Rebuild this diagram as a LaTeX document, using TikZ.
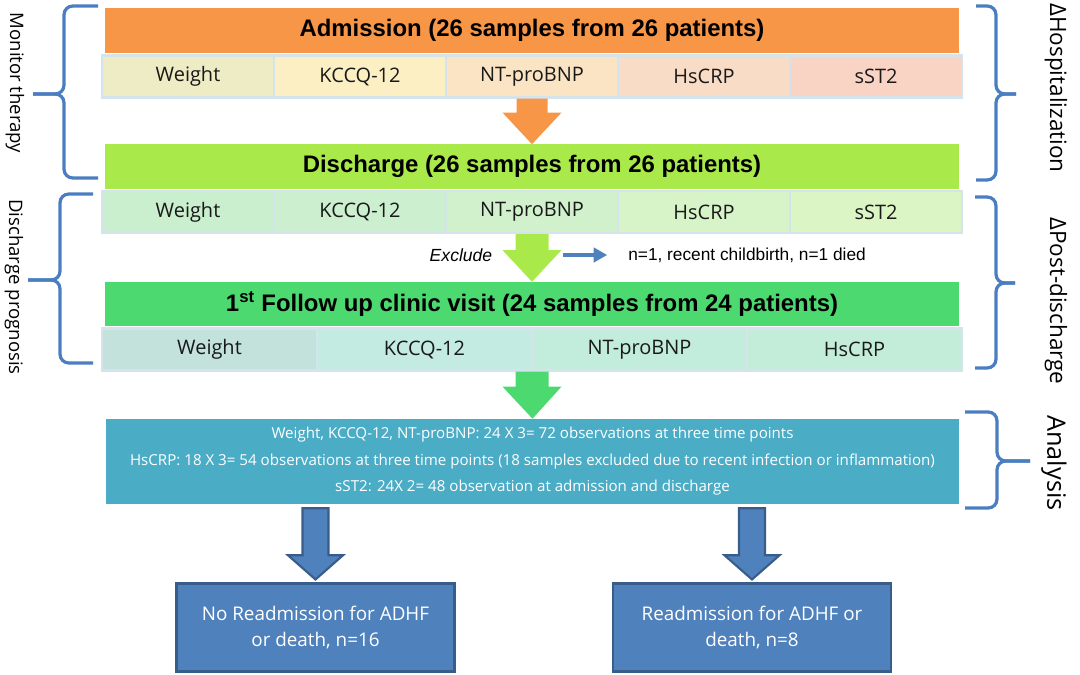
\documentclass[tikz,border=0pt]{standalone}
\usepackage{fontspec}
\setmainfont{Open Sans}
\newfontfamily\arialfont{Liberation Sans}
\usetikzlibrary{calc,arrows.meta}

\definecolor{admorange}{HTML}{F79646}
\definecolor{dislime}{HTML}{A9E94A}
\definecolor{folgreen}{HTML}{4CD970}
\definecolor{anaaqua}{HTML}{4BACC6}
\definecolor{outblue}{HTML}{4F81BD}
\definecolor{outedge}{HTML}{385D8A}
\definecolor{bracecol}{HTML}{4A7EC0}
\definecolor{celledge}{HTML}{D5E3EC}
% cell fills
\definecolor{admA}{HTML}{EEECC5}
\definecolor{admB}{HTML}{FCEFC3}
\definecolor{admC}{HTML}{FBE4C4}
\definecolor{admD}{HTML}{F9DCC6}
\definecolor{admE}{HTML}{F9D3C3}
\definecolor{disA}{HTML}{C9EFCF}
\definecolor{disB}{HTML}{CBEFCF}
\definecolor{disC}{HTML}{D0F1CC}
\definecolor{disD}{HTML}{D6F4C7}
\definecolor{disE}{HTML}{DBF5C4}
\definecolor{folA}{HTML}{C4E2DC}
\definecolor{folB}{HTML}{C4EBE1}
\definecolor{folC}{HTML}{C2ECDC}
\definecolor{folD}{HTML}{C3EDD8}

\tikzset{
  stagebar/.style={minimum width=21.35cm, minimum height=1.1cm, inner sep=0pt,
    font=\arialfont\bfseries\fontsize{17}{20}\selectfont},
  cell/.style={draw=celledge, line width=1.6pt, minimum height=1.05cm, inner sep=0pt,
    text=black!90, font=\fontsize{14.2}{16}\selectfont},
  sidelabel/.style={rotate=-90, font=\fontsize{13.2}{15}\selectfont},
  deltalabel/.style={rotate=-90, font=\fontsize{16}{18}\selectfont},
  bracket/.style={draw=bracecol, line width=2.3pt, rounded corners=0.22cm},
  outcome/.style={fill=outblue, draw=outedge, line width=2pt, minimum width=6.95cm,
    minimum height=2.18cm, text=white, align=center, font=\fontsize{13.4}{19}\selectfont},
  bluearrow/.style={fill=outblue, draw=outedge, line width=1.5pt},
  exarrow/.style={draw=outblue, line width=2.8pt, -{Triangle[length=0.34cm,width=0.36cm]}},
}

\begin{document}
\begin{tikzpicture}[x=0.025cm,y=-0.025cm]
  \useasboundingbox (0,0) rectangle (1080,675);

  % stage bars
  \node[stagebar, fill=admorange] (adm) at (532,30.5) {Admission (26 samples from 26 patients)};
  \node[stagebar, fill=dislime] (dis) at (532,166.5) {Discharge (26 samples from 26 patients)};
  \node[stagebar, fill=folgreen] (fol) at (532,304) {1\textsuperscript{st} Follow up clinic visit (24 samples from 24 patients)};

  % measurement cells
  \foreach \i/\txt/\col in {1/Weight/admA,2/KCCQ-12/admB,3/NT-proBNP/admC,4/HsCRP/admD,5/sST2/admE}
    \node[cell, fill=\col, minimum width=4.3cm] (a\i) at (16+172*\i,76.5) {\txt};
  \foreach \i/\txt/\col in {1/Weight/disA,2/KCCQ-12/disB,3/NT-proBNP/disC,4/HsCRP/disD,5/sST2/disE}
    \node[cell, fill=\col, minimum width=4.3cm] (d\i) at (16+172*\i,212) {\txt};
  \foreach \i/\txt/\col in {1/Weight/folA,2/KCCQ-12/folB,3/NT-proBNP/folC,4/HsCRP/folD}
    \node[cell, fill=\col, minimum width=5.375cm] (f\i) at (-5.5+215*\i,349.5) {\txt};

  % analysis box
  \node[fill=anaaqua, minimum width=21.33cm, minimum height=2.125cm, text=white, align=center,
    font=\fontsize{10.75}{18.8}\selectfont] (ana) at (532.5,461.5)
    {Weight, KCCQ-12, NT-proBNP: 24 X 3= 72 observations at three time points\\
     HsCRP: 18 X 3= 54 observations at three time points (18 samples excluded due to recent infection or inflammation)\\
     sST2: 24X 2= 48 observation at admission and discharge};

  % outcomes
  \node[outcome] (noadm) at (315.5,627.5) {No Readmission for ADHF\\or death, n=16};
  \node[outcome] (readm) at (752,627.5) {Readmission for ADHF or\\death, n=8};

  % block arrows
  \fill[admorange] ($(a3.south)+(-15.5,0)$) -- ($(a3.south)+(15.5,0)$) -- ($(a3.south)+(15.5,14)$)
    -- ($(a3.south)+(29.5,14)$) -- (dis.north) -- ($(a3.south)+(-29.5,14)$) -- ($(a3.south)+(-15.5,14)$) -- cycle;
  \fill[dislime] ($(d3.south)+(-16.5,0)$) -- ($(d3.south)+(16.5,0)$) -- ($(d3.south)+(16.5,16)$)
    -- ($(d3.south)+(29.5,16)$) -- (fol.north) -- ($(d3.south)+(-29.5,16)$) -- ($(d3.south)+(-16.5,16)$) -- cycle;
  \coordinate (folbase) at (fol.south |- f1.south);
  \fill[folgreen] ($(folbase)+(-16.5,0)$) -- ($(folbase)+(16.5,0)$) -- ($(folbase)+(16.5,15)$)
    -- ($(folbase)+(29.5,15)$) -- (ana.north) -- ($(folbase)+(-29.5,15)$) -- ($(folbase)+(-16.5,15)$) -- cycle;

  \coordinate (noTop) at ($(ana.south -| noadm.north)+(0,4)$);
  \filldraw[bluearrow] ($(noTop)+(-13,0)$) -- ($(noTop)+(13,0)$) -- ($(noTop)+(13,47)$) -- ($(noTop)+(27.5,47)$)
    -- ($(noadm.north)+(0,-3)$) -- ($(noTop)+(-27.5,47)$) -- ($(noTop)+(-13,47)$) -- cycle;
  \coordinate (reTop) at ($(ana.south -| readm.north)+(0,4)$);
  \filldraw[bluearrow] ($(reTop)+(-13,0)$) -- ($(reTop)+(13,0)$) -- ($(reTop)+(13,47)$) -- ($(reTop)+(27.5,47)$)
    -- ($(readm.north)+(0,-3)$) -- ($(reTop)+(-27.5,47)$) -- ($(reTop)+(-13,47)$) -- cycle;

  % exclusion
  \node[font=\arialfont\itshape\fontsize{12.5}{15}\selectfont] (excl) at (461,255) {Exclude};
  \node[anchor=west, inner sep=0pt, font=\arialfont\fontsize{12.3}{15}\selectfont] (note) at (628,255)
    {n=1, recent childbirth, n=1 died};
  \coordinate (exA) at (563,255);
  \draw[exarrow, shorten >=0.52cm] (exA) -- (note.west);

  % braces left
  \draw[bracket] (98,6) -| (64,94) -- (33,94);
  \draw[bracket] (33,94) -- (64,94) |- (98,178);
  \draw[bracket] (93,194) -| (60,280) -- (28,280);
  \draw[bracket] (28,280) -- (60,280) |- (93,363);
  % braces right
  \draw[bracket] (976,6) -| (996,94) -- (1016,94);
  \draw[bracket] (1016,94) -- (996,94) |- (976,180);
  \draw[bracket] (975,197) -| (996,283) -- (1015,283);
  \draw[bracket] (1015,283) -- (996,283) |- (975,368);
  \draw[bracket] (965,412) -| (997,461) -- (1030,461);
  \draw[bracket] (1030,461) -- (997,461) |- (965,508);

  % side labels
  \node[sidelabel] (mon) at (15,83) {Monitor therapy};
  \node[sidelabel] (prog) at (14,287) {Discharge prognosis};
  \node[deltalabel] (hosp) at (1056,88) {ΔHospitalization};
  \node[deltalabel] (post) at (1056,301) {ΔPost-discharge};
  \node[rotate=-90, font=\fontsize{18}{20}\selectfont] (anl) at (1054,463) {Analysis};
\end{tikzpicture}
\end{document}
